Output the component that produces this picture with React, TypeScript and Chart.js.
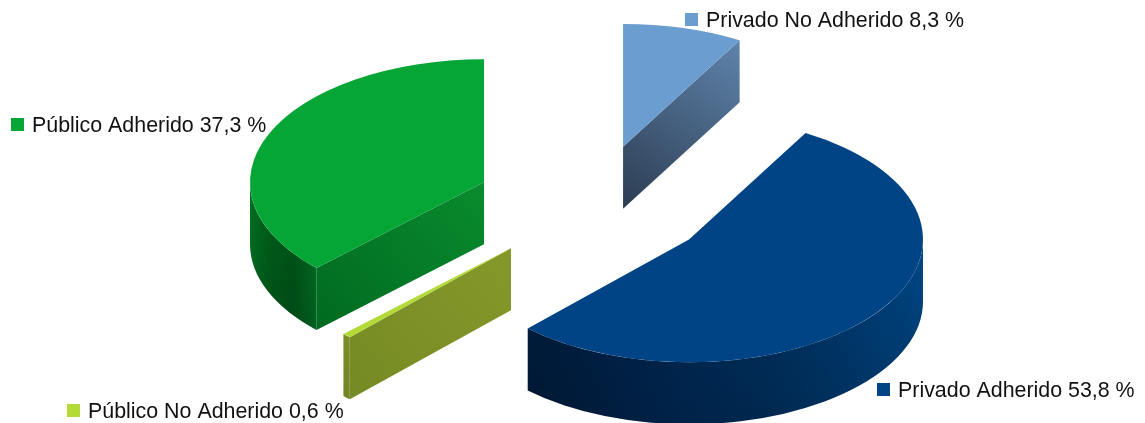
import React, { useEffect, useRef } from "react";
import { Chart, registerables } from "chart.js";

Chart.register(...registerables);

// Shares of the four sectors, clockwise from twelve o'clock.
const categories = ["Privado No Adherido", "Privado Adherido", "Público No Adherido", "Público Adherido"];
const shares = [8.3, 53.8, 0.6, 37.3];
const faceColors = ["#6c9dd0", "#004485", "#b4da38", "#05a536"];

// How far each slice is pulled out of the pie, and a small extra vertical shift.
const explodeDistance = [105, 116, 121, 121.5];
const verticalShift = [-3, 0, 0, 4];

// Wall shading: [left-to-right stops for the rim], [lower-left to upper-right stops for the cut face].
const rimStops = [
  ["#4f7299", "#4f7299"],
  ["#001d3d", "#00224a", "#002a58", "#00305f", "#003a70", "#004584"],
  ["#869a2a", "#869a2a"],
  ["#006f21", "#005c1b", "#00561a", "#026f24"],
];
const cutStops = [
  ["#2c3d52", "#5f83ab"],
  ["#001d3d", "#001d3d"],
  ["#768a24", "#84982a"],
  ["#006a20", "#0a8b2e"],
];

// Legend placement, as [marker left, marker top] per category.
const legendAnchors = [
  [685, 13],
  [877, 383],
  [67, 404],
  [11, 118],
];

const PIE_RADIUS = 234;
const TILT = 0.525;
const DEPTH = 62;
const PIE_CENTER_X = 596;
const PIE_CENTER_Y = 203;
const MARKER = 13;
const LABEL_FONT = '21.4px "Liberation Sans", Arial, sans-serif';

const formatShare = (v: number) => v.toFixed(1).replace(".", ",") + " %";

const linear = (ctx: CanvasRenderingContext2D, x0: number, y0: number, x1: number, y1: number, stops: string[]) => {
  const g = ctx.createLinearGradient(x0, y0, x1, y1);
  stops.forEach((c, i) => g.addColorStop(stops.length > 1 ? i / (stops.length - 1) : 0, c));
  return g;
};

// Draws the pie as an extruded, tilted disc; the flat top of every slice is the library's own arc.
const extrudedPie = {
  id: "extrudedPie",
  beforeDatasetsDraw(chart: any) {
    const ctx: CanvasRenderingContext2D = chart.ctx;
    const arcs = chart.getDatasetMeta(0).data;
    const order = [0, 3, 2, 1];
    for (const i of order) {
      const arc = arcs[i];
      const { x, y, startAngle, endAngle, outerRadius: r } = arc.getProps(
        ["x", "y", "startAngle", "endAngle", "outerRadius"],
        true
      );
      const mid = (startAngle + endAngle) / 2;
      const cx = PIE_CENTER_X + Math.cos(mid) * explodeDistance[i];
      const cy = PIE_CENTER_Y + Math.sin(mid) * explodeDistance[i] * TILT + verticalShift[i];
      const ry = r * TILT;

      const point = (a: number) => [cx + Math.cos(a) * r, cy + Math.sin(a) * ry];

      // Cut faces that look towards the viewer.
      const cutFace = (a: number) => {
        const [px, py] = point(a);
        ctx.beginPath();
        ctx.moveTo(cx, cy);
        ctx.lineTo(px, py);
        ctx.lineTo(px, py + DEPTH);
        ctx.lineTo(cx, cy + DEPTH);
        ctx.closePath();
        ctx.fillStyle =
          px < cx
            ? linear(ctx, px, py + DEPTH, cx, cy, cutStops[i])
            : linear(ctx, cx, cy + DEPTH, px, py, cutStops[i]);
        ctx.fill();
      };
      if (-Math.cos(startAngle) > 1e-3) cutFace(startAngle);
      if (Math.cos(endAngle) > 1e-3) cutFace(endAngle);

      // Rim: the part of the outer edge on the near half of the ellipse.
      const tau = Math.PI * 2;
      let a0 = startAngle;
      let a1 = endAngle;
      while (a0 < -Math.PI) {
        a0 += tau;
        a1 += tau;
      }
      const windows = [
        [0, Math.PI],
        [tau, tau + Math.PI],
      ];
      for (const [w0, w1] of windows) {
        const s = Math.max(a0, w0);
        const e = Math.min(a1, w1);
        if (e <= s) continue;
        ctx.beginPath();
        ctx.ellipse(cx, cy, r, ry, 0, s, e);
        ctx.ellipse(cx, cy + DEPTH, r, ry, 0, e, s, true);
        ctx.closePath();
        const left = Math.min(point(s)[0], point(e)[0], s < w0 + Math.PI && e >= w0 + Math.PI ? cx - r : Infinity);
        const right = Math.max(point(s)[0], point(e)[0], s <= w0 && e > w0 ? cx + r : -Infinity);
        ctx.fillStyle = linear(ctx, left, 0, right, 0, rimStops[i]);
        ctx.fill();
        ctx.fillStyle = linear(ctx, 0, cy, 0, cy + ry + DEPTH, ["rgba(0,0,0,0)", "rgba(0,0,0,0.18)"]);
        ctx.fill();
      }

      // Flat top, drawn by the arc element through a squashing transform.
      ctx.save();
      ctx.translate(cx, cy);
      ctx.scale(1, TILT);
      ctx.translate(-x, -y);
      arc.draw(ctx);
      ctx.restore();
    }
    return false;
  },
  afterDraw(chart: any) {
    const ctx: CanvasRenderingContext2D = chart.ctx;
    ctx.save();
    ctx.font = LABEL_FONT;
    ctx.textBaseline = "alphabetic";
    categories.forEach((name, i) => {
      const [mx, my] = legendAnchors[i];
      ctx.fillStyle = faceColors[i];
      ctx.fillRect(mx, my, MARKER, MARKER);
      ctx.fillStyle = "#111111";
      ctx.fillText(`${name} ${formatShare(shares[i])}`, mx + MARKER + 8, my + MARKER + 1);
    });
    ctx.restore();
  },
};

export default function App() {
  const canvasRef = useRef<HTMLCanvasElement>(null);

  useEffect(() => {
    if (!canvasRef.current) return;
    const chart = new Chart(canvasRef.current, {
      type: "pie",
      data: {
        labels: categories,
        datasets: [{ data: shares, backgroundColor: faceColors, borderWidth: 0 }],
      },
      options: {
        animation: false,
        responsive: false,
        radius: PIE_RADIUS,
        events: [],
        plugins: { legend: { display: false }, tooltip: { enabled: false } },
      },
      plugins: [extrudedPie],
    } as any);
    return () => chart.destroy();
  }, []);

  return (
    <canvas
      ref={canvasRef}
      width={1145}
      height={423}
      style={{ position: "absolute", left: 0, top: 0, display: "block", background: "#ffffff" }}
    />
  );
}
